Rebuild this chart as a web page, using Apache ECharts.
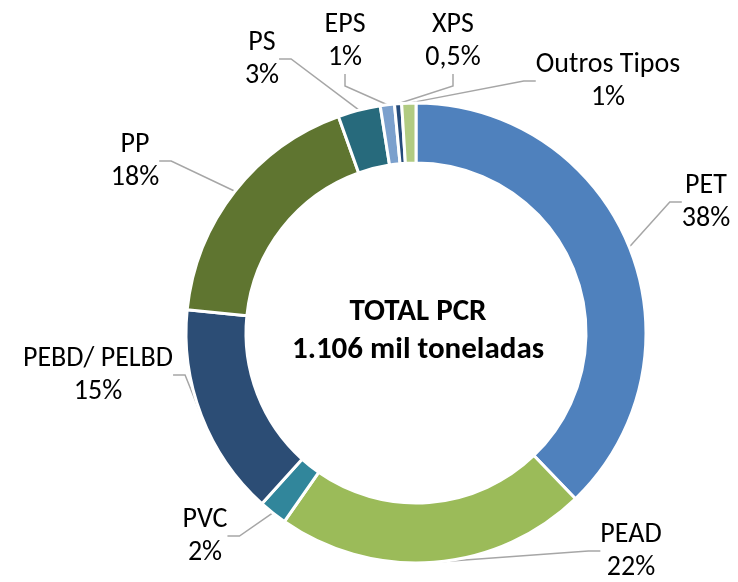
<!DOCTYPE html>
<html>
<head>
<meta charset="utf-8">
<script src="https://cdn.jsdelivr.net/npm/echarts@6/dist/echarts.min.js"></script>
<style>
  html, body { margin: 0; padding: 0; background: #fff; }
  #main { width: 738px; height: 582px; }
</style>
</head>
<body>
<div id="main"></div>
<script>
const chart = echarts.init(document.querySelector('#main'));

// dados
const categories = ['PET', 'PEAD', 'PVC', 'PEBD/ PELBD', 'PP', 'PS', 'EPS', 'XPS', 'Outros Tipos'];
const shares = [38, 22, 2, 15, 18, 3, 1, 0.5, 1];
const colors = ['#4F81BD', '#9BBB59', '#31869B', '#2C4D75', '#5F7530', '#276A7C', '#7BA0CD', '#254B7A', '#B1CB82'];

// posição dos rótulos (centro do bloco de texto)
const labelPos = [
    [706, 202], [631, 551], [205, 536], [98, 375], [135, 161],
    [262, 59], [345, 41], [453, 41], [608, 81]
];

const font = 'Carlito, Lato, "Open Sans", sans-serif';

let option = {
    backgroundColor: '#fff',
    animation: false,
    graphic: [
        {
            type: 'text',
            x: 418,
            y: 331,
            style: {
                text: 'TOTAL PCR\n1.106 mil toneladas',
                font: 'bold 31px ' + font,
                lineHeight: 38,
                fill: '#000',
                align: 'center',
                verticalAlign: 'middle'
            }
        }
    ],
    series: [
        {
            type: 'pie',
            center: [416, 333],
            radius: [170, 230],
            startAngle: 90,
            clockwise: true,
            avoidLabelOverlap: false,
            itemStyle: { borderColor: '#fff', borderWidth: 3 },
            label: {
                show: true,
                fontFamily: font,
                fontSize: 28,
                lineHeight: 33,
                color: '#000',
                align: 'center',
                formatter: (p) => p.name + '\n' + String(p.value).replace('.', ',') + '%'
            },
            labelLine: {
                show: true,
                length: 15,
                length2: 12,
                lineStyle: { color: '#A6A6A6', width: 1.5 }
            },
            labelLayout: (params) => {
                const p = labelPos[params.dataIndex];
                return { x: p[0], y: p[1], align: 'center', verticalAlign: 'middle' };
            },
            data: categories.map((name, i) => ({
                name: name,
                value: shares[i],
                itemStyle: { color: colors[i] }
            }))
        }
    ]
};

chart.setOption(option);
</script>
</body>
</html>
